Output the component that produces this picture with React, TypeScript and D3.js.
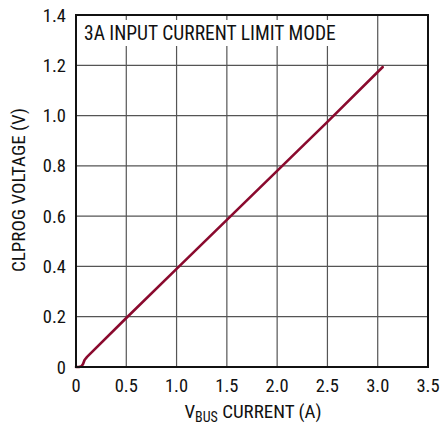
import React from "react";
import * as d3 from "d3";

const xTicks = [0, 0.5, 1.0, 1.5, 2.0, 2.5, 3.0, 3.5];
const xTickLabels = ["0", "0.5", "1.0", "1.5", "2.0", "2.5", "3.0", "3.5"];
const yTicks = [0, 0.2, 0.4, 0.6, 0.8, 1.0, 1.2, 1.4];
const yTickLabels = ["0", "0.2", "0.4", "0.6", "0.8", "1.0", "1.2", "1.4"];
const currentA = [0, 0.03, 0.055, 0.07, 0.085, 0.11, 0.5, 1.0, 1.5, 2.0, 2.5, 3.05];
const clprogV = [0, 0, 0.003, 0.012, 0.028, 0.04, 0.195, 0.39, 0.585, 0.78, 0.975, 1.193];
const title = "3A INPUT CURRENT LIMIT MODE";

const W = 440, H = 428;
const L = 76, R = 428, T = 15, B = 367;
const FONT = "'Liberation Sans Narrow', 'Roboto Condensed', 'Arial Narrow', sans-serif";

export default function App() {
  const x = d3.scaleLinear().domain([0, 3.5]).range([L, R]);
  const y = d3.scaleLinear().domain([0, 1.4]).range([B, T]);
  const pts = currentA.map((v, i) => [v, clprogV[i]] as [number, number]);
  const line = d3.line<[number, number]>().x(d => x(d[0])).y(d => y(d[1]));
  return (
    <svg width={W} height={H} style={{ position: "absolute", left: 0, top: 0, background: "#fff" }}>
      <rect x={0} y={0} width={W} height={H} fill="#fff" />
      {xTicks.slice(1, -1).map(t => (
        <line key={"gx" + t} x1={x(t)} x2={x(t)} y1={T} y2={B} stroke="#555" strokeWidth={1.2} />
      ))}
      {yTicks.slice(1, -1).map(t => (
        <line key={"gy" + t} x1={L} x2={R} y1={y(t)} y2={y(t)} stroke="#555" strokeWidth={1.2} />
      ))}
      <rect x={L + 3} y={T + 5} width={264} height={26} fill="#fff" />
      <text x={L + 8} y={T + 25} fontFamily={FONT} fontSize={19.5} fill="#111">{title}</text>
      <path d={line(pts) || ""} fill="none" stroke="#8a0a2e" strokeWidth={2.6} strokeLinecap="round" strokeLinejoin="round" />
      <rect x={L} y={T} width={R - L} height={B - T} fill="none" stroke="#111" strokeWidth={2} />
      {yTicks.map((t, i) => (
        <text key={"yl" + t} x={L - 10} y={y(t) + 6.5} textAnchor="end" fontFamily={FONT} fontSize={18.5} fill="#111">{yTickLabels[i]}</text>
      ))}
      {xTicks.map((t, i) => (
        <text key={"xl" + t} x={x(t)} y={B + 25} textAnchor="middle" fontFamily={FONT} fontSize={18.5} fill="#111">{xTickLabels[i]}</text>
      ))}
      <text transform={`translate(25, ${(T + B) / 2 - 1}) rotate(-90)`} textAnchor="middle" fontFamily={FONT} fontSize={19} fill="#111">CLPROG VOLTAGE (V)</text>
      <text x={(L + R) / 2 + 1} y={B + 51} textAnchor="middle" fontFamily={FONT} fontSize={19} fill="#111">
        V<tspan fontSize={14} dy={4}>BUS</tspan><tspan dy={-4}> CURRENT (A)</tspan>
      </text>
    </svg>
  );
}
